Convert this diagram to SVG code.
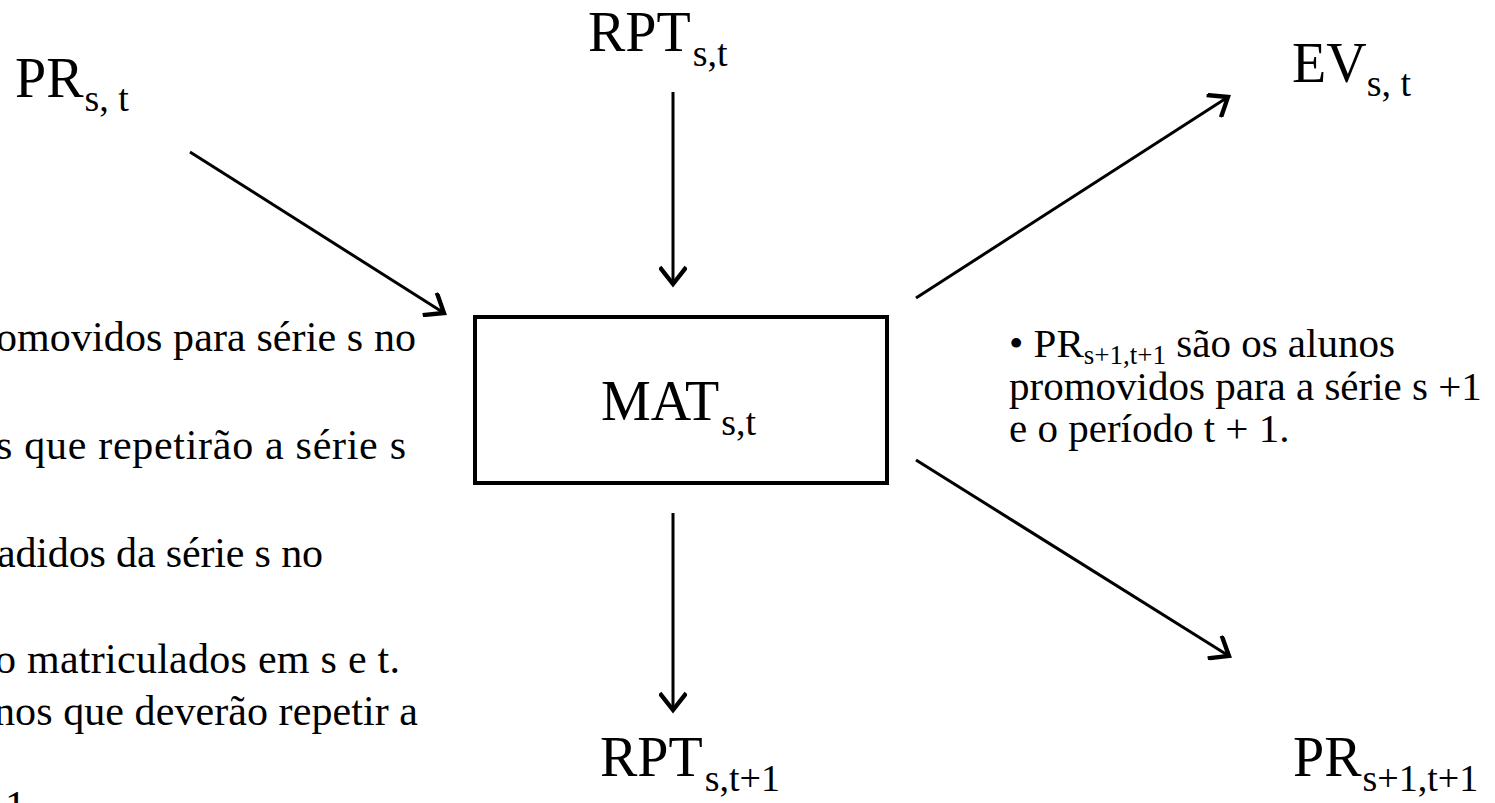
<svg xmlns="http://www.w3.org/2000/svg" width="1495" height="803" viewBox="0 0 1495 803">
<style>
.lbl{font-family:"Liberation Serif","Times New Roman",serif;font-size:56px;fill:#000}
.sub{font-size:38px}
.body{font-family:"Liberation Serif","Times New Roman",serif;font-size:42px;fill:#000}
.rbody{font-size:41px}
.bsub{font-size:27px}
.conn{stroke:#000;stroke-width:3;fill:none}
</style>
<defs>
<marker id="ah" markerUnits="userSpaceOnUse" markerWidth="26" markerHeight="28" refX="19" refY="12" orient="auto" viewBox="0 0 24 24">
<path d="M5,1 L19,12 L5,23" fill="none" stroke="#000" stroke-width="4" stroke-linecap="square"/>
</marker>
</defs>
<rect width="1495" height="803" fill="#fff"/>
<g id="connectors">
<line class="conn" x1="190" y1="152" x2="444" y2="313" marker-end="url(#ah)"/>
<line class="conn" x1="673" y1="92" x2="673" y2="284" marker-end="url(#ah)"/>
<line class="conn" x1="673" y1="513" x2="673" y2="710" marker-end="url(#ah)"/>
<line class="conn" x1="916" y1="298" x2="1228" y2="97" marker-end="url(#ah)"/>
<line class="conn" x1="916" y1="460" x2="1229" y2="656" marker-end="url(#ah)"/>
</g>
<g id="node-pr">
<text class="lbl" x="15" y="97">PR<tspan class="sub" dx="1" dy="14">s, t</tspan></text>
</g>
<g id="node-rpt">
<text class="lbl" x="588" y="51">RPT<tspan class="sub" dx="2" dy="15">s,t</tspan></text>
</g>
<g id="node-ev">
<text class="lbl" x="1292" y="82">EV<tspan class="sub" dx="0" dy="14">s, t</tspan></text>
</g>
<g id="node-mat">
<rect x="475" y="317" width="412" height="166" fill="#fff" stroke="#000" stroke-width="4"/>
<text class="lbl" x="601" y="420">MAT<tspan class="sub" dx="2" dy="15">s,t</tspan></text>
</g>
<g id="node-rpt-next">
<text class="lbl" x="600" y="776">RPT<tspan class="sub" dx="2" dy="15">s,t+1</tspan></text>
</g>
<g id="node-pr-next">
<text class="lbl" x="1293" y="776">PR<tspan class="sub" dx="1" dy="15">s+1,t+1</tspan></text>
</g>
<g id="right-note">
<text class="body rbody" x="1009" y="357">• PR<tspan class="bsub" dy="7">s+1,t+1</tspan><tspan dy="-7"> são os alunos</tspan></text>
<text class="body rbody" x="1009" y="400">promovidos para a série s +1</text>
<text class="body rbody" x="1009" y="442">e o período t + 1.</text>
</g>
<g id="left-note">
<text class="body" x="-4" y="351" textLength="420">omovidos para série s no</text>
<text class="body" x="-4" y="459" textLength="410">s que repetirão a série s</text>
<text class="body" x="-3" y="567" textLength="326">adidos da série s no</text>
<text class="body" x="-5" y="673" textLength="405">o matriculados em s e t.</text>
<text class="body" x="-6" y="725" textLength="424">nos que deverão repetir a</text>
<text class="body" x="26" y="820" text-anchor="end">t+1</text>
</g>
</svg>
